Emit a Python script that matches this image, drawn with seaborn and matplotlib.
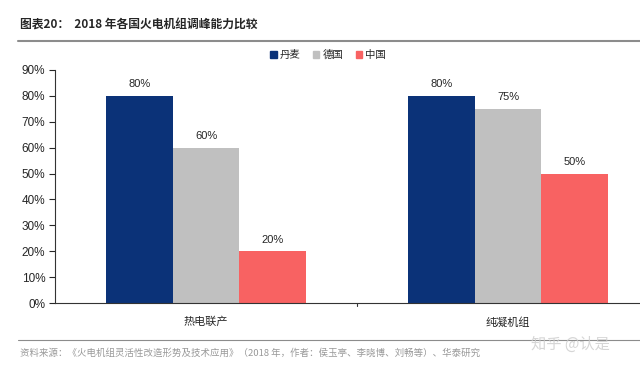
import pandas as pd
import matplotlib.pyplot as plt
import seaborn as sns

categories = ['热电联产', '纯凝机组']
countries = ['丹麦', '德国', '中国']
values = {
    '丹麦': [0.80, 0.80],
    '德国': [0.60, 0.75],
    '中国': [0.20, 0.50],
}
yticks = [0, 0.1, 0.2, 0.3, 0.4, 0.5, 0.6, 0.7, 0.8, 0.9]
colors = ['#0b3278', '#c0c0c0', '#f86262']

rows = []
for c in countries:
    for cat, v in zip(categories, values[c]):
        rows.append({'category': cat, 'country': c, 'value': v})
df = pd.DataFrame(rows)

sns.set_style('white')
plt.rcParams['font.family'] = ['Noto Sans CJK SC', 'DejaVu Sans']

fig = plt.figure(figsize=(6.4, 3.65), dpi=100)
ax = fig.add_axes([55 / 640, 1 - 303 / 365, 1 - 55 / 640, 233 / 365])

sns.barplot(data=df, x='category', y='value', hue='country', hue_order=countries,
            palette=colors, width=0.66, saturation=1, linewidth=0, ax=ax, legend=False)

for cont in ax.containers:
    for bar in cont:
        h = bar.get_height()
        ax.text(bar.get_x() + bar.get_width() / 2, h + 0.025, f'{h * 100:.0f}%',
                ha='center', va='bottom', fontsize=8, family='Liberation Sans')

ax.set_ylim(0, 0.9)
ax.set_xlim(-0.5, 1.437)
ax.set_yticks(yticks)
ax.set_yticklabels([f'{t * 100:.0f}%' for t in yticks], fontsize=8.5, family='Liberation Sans')
ax.set_xticks([0, 1])
ax.set_xticklabels(categories, fontsize=8)
ax.set_xlabel('')
ax.set_ylabel('')
ax.tick_params(axis='y', length=4, width=0.8, direction='out', left=True, pad=3)
ax.tick_params(axis='x', length=0, pad=10)
for s in ['top', 'right']:
    ax.spines[s].set_visible(False)
for s in ['left', 'bottom']:
    ax.spines[s].set_color('#333333')
    ax.spines[s].set_linewidth(0.8)
# separator tick between the two groups
ax.plot([0.5, 0.5], [0, -0.012], color='#333333', lw=0.8, clip_on=False)

# legend
handles = [plt.Rectangle((0, 0), 1, 1, color=c) for c in colors]
fig.legend(handles, countries, loc='center', bbox_to_anchor=(328 / 640, 1 - 55 / 365),
           ncol=3, frameon=False, fontsize=7.5, handlelength=0.6, handleheight=0.6,
           handletextpad=0.3, columnspacing=1.2)

# header and footer
fig.text(20 / 640, 1 - 25 / 365, '图表20：  2018 年各国火电机组调峰能力比较', fontsize=8.5,
         fontweight='heavy', va='center', ha='left')
fig.add_artist(plt.Line2D([18 / 640, 1], [1 - 41 / 365] * 2, color='#8c8c8c', lw=1.5))
fig.add_artist(plt.Line2D([18 / 640, 1], [1 - 340 / 365] * 2, color='#8c8c8c', lw=0.8))
fig.text(20 / 640, 1 - 353 / 365,
         '资料来源：《火电机组灵活性改造形势及技术应用》（2018 年，作者：侯玉亭、李晓博、刘畅等）、华泰研究',
         fontsize=6.8, color='#999999', va='center', ha='left')
fig.text(610 / 640, 1 - 344 / 365, '知乎 @认是', fontsize=11, color='#cccccc',
         va='center', ha='right', alpha=0.8)

fig.savefig('out.png', dpi=100)
